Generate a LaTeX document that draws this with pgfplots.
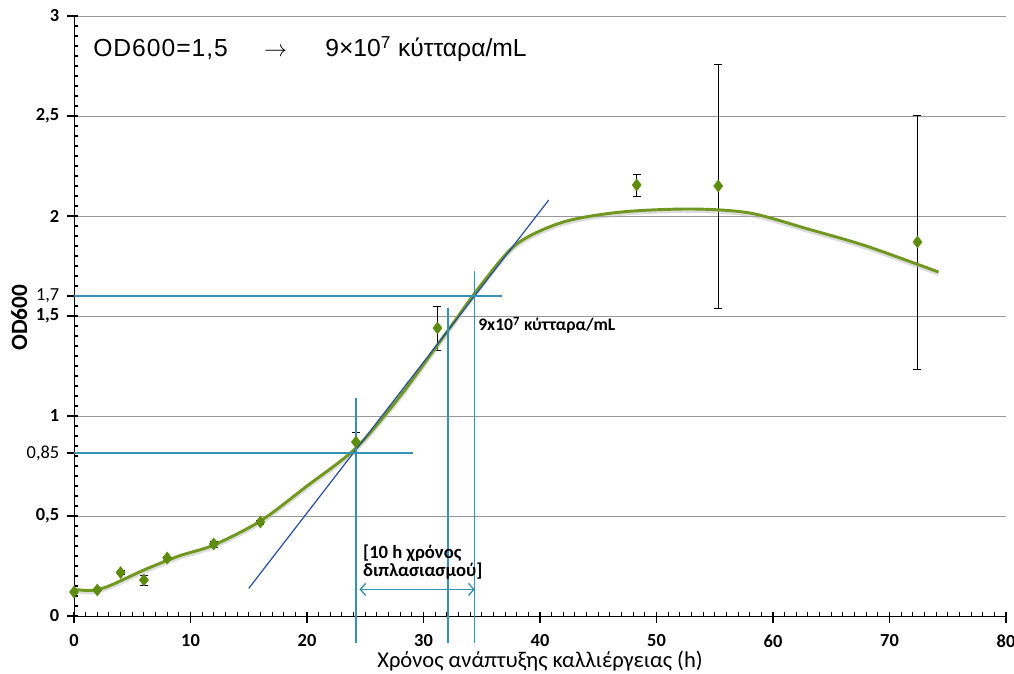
\documentclass[border=0pt]{standalone}
\usepackage{fontspec}
\setmainfont{Carlito}
\newfontfamily\arialfont{Liberation Sans}
\usepackage{pgfplots}
\usepackage{pgfplotstable}
\pgfplotsset{compat=1.18}
\usetikzlibrary{arrows.meta,calc}

\definecolor{curvegreen}{RGB}{112,152,32}
\definecolor{markgreen}{RGB}{94,140,14}
\definecolor{tanblue}{RGB}{38,78,160}
\definecolor{guide}{RGB}{52,146,180}

% measured OD600 with error
\pgfplotstableread{
x    y      e
0    0.120  0.000
2    0.130  0.005
4    0.217  0.010
6    0.180  0.025
8    0.290  0.010
12   0.360  0.015
16   0.470  0.010
24.2 0.870  0.050
31.2 1.440  0.110
48.3 2.155  0.055
55.3 2.150  0.610
72.4 1.870  0.635
}\measured

% fitted growth curve
\pgfplotstableread{
x    y
0    0.133
1.5  0.128
3    0.150
6    0.230
9    0.300
12   0.355
16   0.475
20   0.650
24.2 0.840
28   1.100
32   1.420
35   1.660
38   1.860
42   1.970
47   2.020
53   2.035
58   2.015
63   1.935
68   1.850
74.2 1.720
}\fitted

\begin{document}
\begin{tikzpicture}
\begin{axis}[
    scale only axis,
    width=699pt, height=450pt,
    xmin=0, xmax=80, ymin=0, ymax=3,
    axis x line*=bottom, axis y line*=left,
    xtick pos=left, ytick pos=left,
    axis line style={-, black, line width=0.6pt},
    xtick={0,10,...,80},
    ytick={0,0.5,...,3},
    minor xtick={1,...,79},
    minor ytick={0.05,0.1,...,2.97},
    tick align=inside,
    major tick length=8pt, minor tick length=3pt,
    every tick/.style={black, line width=0.8pt},
    every major x tick/.append style={yshift=-5pt},
    every major y tick/.append style={xshift=-5pt},
    ymajorgrids,
    major grid style={gray!80, line width=0.6pt},
    /pgf/number format/assume math mode=true,
    /pgf/number format/use comma,
    ticklabel style={font=\fontsize{13.8}{15}\selectfont\bfseries},
    xticklabel style={yshift=-10.5pt},
    yticklabel style={xshift=-7.5pt},
    extra y ticks={0.815,1.6},
    extra y tick labels={{0,85},{1,7}},
    extra y tick style={grid=none, tick label style={font=\fontsize{13.8}{15}\selectfont}},
    xlabel={Χρόνος ανάπτυξης καλλιέργειας (h)},
    xlabel style={at={(axis description cs:0.5,0)}, anchor=base, yshift=-39pt,
        font=\fontsize{16.9}{18}\selectfont},
    clip=false,
]

% data points
\addplot[only marks, mark=diamond*, mark size=4.5pt, color=markgreen,
    error bars/.cd, y dir=both, y explicit,
    error bar style={black, line width=0.7pt},
    error mark options={rotate=90, mark size=3pt, black, line width=0.7pt}]
    table[x=x, y=y, y error=e] {\measured};

% fitted curve with a soft shadow
\addplot[smooth, black!30, line width=2.8pt, opacity=0.45, yshift=-1.5pt]
    table[x=x, y=y] {\fitted};
\addplot[smooth, curvegreen, line width=2.2pt] table[x=x, y=y] {\fitted};

% tangent in exponential phase
\addplot[tanblue, line width=0.9pt] coordinates {(15,0.138) (40.75,2.08)};

% guide lines
\addplot[guide, line width=1pt] coordinates {(0,1.6) (36.7,1.6)};
\addplot[guide, line width=1pt] coordinates {(0,0.815) (29.1,0.815)};
\addplot[guide, line width=1pt] coordinates {(24.2,1.09) (24.2,-0.137)};
\addplot[guide, line width=1pt] coordinates {(32.1,1.54) (32.1,-0.137)};
\addplot[guide, line width=1pt] coordinates {(34.4,1.725) (34.4,-0.137)};
\addplot[guide, line width=1pt,
    {Straight Barb[length=4pt,width=9pt]}-{Straight Barb[length=4pt,width=9pt]}]
    coordinates {(24.5,0.133) (34.4,0.133)};

% y axis title
\node[rotate=90, inner sep=0pt, font=\fontsize{17.5}{19}\selectfont\bfseries]
    at ($(rel axis cs:0,0.4975)+(-41pt,0pt)$) {OD600};

% annotations
\node[anchor=base west, inner sep=0pt, font=\arialfont\fontsize{18.5}{20}\selectfont]
    at (axis cs:1.63,2.795) {\addfontfeature{LetterSpace=4}OD600=1,5};
\node[anchor=base, inner sep=0pt, font=\fontsize{16.5}{18}\selectfont]
    at (axis cs:17.3,2.795) {$\rightarrow$};
\node[anchor=base west, inner sep=0pt, font=\arialfont\fontsize{18.5}{20}\selectfont]
    at (axis cs:21.55,2.795) {9×10\textsuperscript{7} κύτταρα/mL};
\node[anchor=base west, inner sep=0pt, font=\fontsize{13.2}{15}\selectfont\bfseries]
    at (axis cs:34.68,1.425) {9x10\textsuperscript{7} κύτταρα/mL};
\node[anchor=base west, inner sep=0pt, font=\fontsize{14}{16}\selectfont\bfseries]
    at (axis cs:24.8,0.285) {[10 h χρόνος};
\node[anchor=base west, inner sep=0pt, font=\fontsize{14}{16}\selectfont\bfseries]
    at (axis cs:24.8,0.195) {διπλασιασμού]};
\end{axis}
\pgfresetboundingbox
\path ($(current axis.south west)+(-55.5pt,-43.5pt)$)
    rectangle ($(current axis.north east)+(6pt,12pt)$);
\end{tikzpicture}
\end{document}
